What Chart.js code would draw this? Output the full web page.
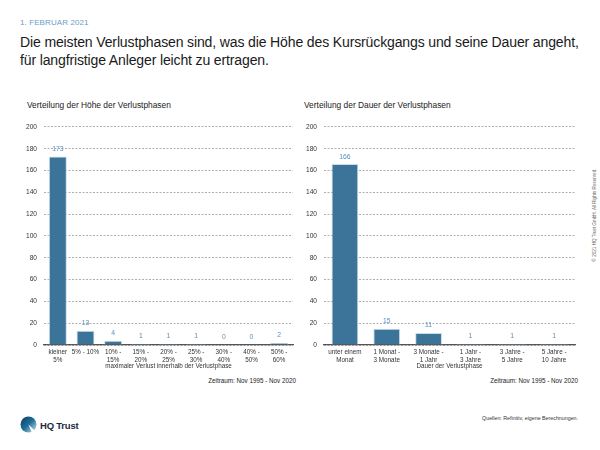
<!DOCTYPE html>
<html>
<head>
<meta charset="utf-8">
<script src="https://cdn.jsdelivr.net/npm/chart.js@4/dist/chart.umd.min.js"></script>
<style>
  html, body { margin: 0; padding: 0; background: #fff; }
  body { width: 600px; height: 450px; position: relative; overflow: hidden; font-family: "Liberation Sans", Arial, sans-serif; }
  .abs { position: absolute; }
  #date { left: 20px; top: 18px; font-size: 8px; color: #6b9cc6; letter-spacing: 0.1px; }
  #title { left: 20px; top: 33px; font-size: 14.05px; line-height: 18px; color: #1a1a1a; white-space: nowrap; letter-spacing: -0.15px; }
  .sub { top: 100px; font-size: 8.4px; color: #222; }
  .zeit { top: 377px; font-size: 6.3px; color: #222; }
  #src { left: 430px; top: 415px; width: 148px; text-align: right; font-size: 5.3px; color: #333; }
  #copy { left: 594px; top: 215px; font-size: 4.6px; color: #666; transform: translate(-50%, -50%) rotate(-90deg); white-space: nowrap; transform-origin: center; }
  #logo { left: 20px; top: 416px; }
  #hq { left: 40px; top: 420px; font-size: 9.5px; font-weight: bold; color: #1d2a3a; letter-spacing: -0.2px; }
</style>
</head>
<body>
<div id="date" class="abs">1. FEBRUAR 2021</div>
<div id="title" class="abs">Die meisten Verlustphasen sind, was die Höhe des Kursrückgangs und seine Dauer angeht,<br>für langfristige Anleger leicht zu ertragen.</div>
<div class="abs sub" style="left:27px;">Verteilung der Höhe der Verlustphasen</div>
<div class="abs sub" style="left:304px;">Verteilung der Dauer der Verlustphasen</div>

<canvas id="c1" class="abs" style="left:20px; top:116px;" width="278" height="258"></canvas>
<canvas id="c2" class="abs" style="left:300px; top:116px;" width="280" height="258"></canvas>

<div class="abs zeit" style="left:200px; width:96px; text-align:right;">Zeitraum: Nov 1995 - Nov 2020</div>
<div class="abs zeit" style="left:480px; width:98px; text-align:right;">Zeitraum: Nov 1995 - Nov 2020</div>

<svg id="logo" class="abs" width="18" height="18" viewBox="0 0 18 18">
  <defs>
    <linearGradient id="lg" x1="0" y1="0" x2="1" y2="1">
      <stop offset="0" stop-color="#0a3a5c"/>
      <stop offset="0.5" stop-color="#1f6f9a"/>
      <stop offset="1" stop-color="#d8e8f2"/>
    </linearGradient>
  </defs>
  <circle cx="8.5" cy="8.5" r="8" fill="url(#lg)"/>
  <path d="M8.5 8.5 L17 17 L12 17 Z" fill="#fff"/>
</svg>
<div id="hq" class="abs">HQ Trust</div>
<div id="src" class="abs">Quellen: Refinitiv, eigene Berechnungen.</div>
<div id="copy" class="abs">© 2021 HQ Trust GmbH. All Rights Reserved.</div>

<script>
// ---- Data ----
const lossCategories = [["kleiner","5%"],["5% - 10%"],["10% -","15%"],["15% -","20%"],["20% -","25%"],["25% -","30%"],["30% -","40%"],["40% -","50%"],["50% -","60%"]];
const lossCounts = [173, 13, 4, 1, 1, 1, 0, 0, 2];
const durationCategories = [["unter einem","Monat"],["1 Monat -","3 Monate"],["3 Monate -","1 Jahr"],["1 Jahr -","3 Jahre"],["3 Jahre -","5 Jahre"],["5 Jahre -","10 Jahre"]];
const durationCounts = [166, 15, 11, 1, 1, 1];
const yTicks = [0, 20, 40, 60, 80, 100, 120, 140, 160, 180, 200];
const lossAxisTitle = "maximaler Verlust innerhalb der Verlustphase";
const durationAxisTitle = "Dauer der Verlustphase";

const FONT = "'Liberation Sans', Arial, sans-serif";
const BAR = "#3b7399";
const LABEL = "#5a8fbf";

const valueLabels = {
  id: 'valueLabels',
  afterDatasetsDraw(chart) {
    const ctx = chart.ctx;
    const meta = chart.getDatasetMeta(0);
    const data = chart.data.datasets[0].data;
    ctx.save();
    ctx.fillStyle = LABEL;
    ctx.font = "6.8px " + FONT;
    ctx.textAlign = 'center';
    ctx.textBaseline = 'bottom';
    meta.data.forEach((el, i) => {
      ctx.fillText(String(data[i]), el.x, el.y - 4);
    });
    ctx.restore();
  }
};

function makeChart(id, labels, values, axisTitle, barPct, yWidth, padRight) {
  return new Chart(document.getElementById(id), {
    type: 'bar',
    data: {
      labels: labels,
      datasets: [{
        data: values,
        backgroundColor: BAR,
        borderColor: '#c9dcea',
        borderWidth: 1,
        barPercentage: barPct,
        categoryPercentage: 1.0
      }]
    },
    options: {
      responsive: false,
      animation: false,
      devicePixelRatio: 1,
      layout: { padding: { top: 10, right: padRight, bottom: 0, left: 0 } },
      plugins: { legend: { display: false }, tooltip: { enabled: false } },
      scales: {
        y: {
          min: 0, max: 200,
          afterBuildTicks(scale) { scale.ticks = yTicks.map(v => ({ value: v })); },
          afterFit(scale) { scale.width = yWidth; },
          grid: { color: '#9a9a9a', lineWidth: 0.8, drawTicks: false },
          border: { display: false, dash: [2, 1.5] },
          ticks: { font: { size: 6.6, family: FONT }, color: '#333', padding: 7 }
        },
        x: {
          afterFit(scale) { scale.height = 29; },
          grid: { display: false, drawTicks: false },
          border: { display: true, color: '#555', width: 1.2 },
          ticks: { font: { size: 6.3, family: FONT, lineHeight: 1.15 }, color: '#333', padding: 4, maxRotation: 0, autoSkip: false },
          title: { display: true, text: axisTitle, font: { size: 6.3, family: FONT }, color: '#333', padding: { top: 0, bottom: 4 } }
        }
      }
    },
    plugins: [valueLabels]
  });
}

Chart.defaults.font.family = FONT;
makeChart('c1', lossCategories, lossCounts, lossAxisTitle, 0.65, 24, 5);
makeChart('c2', durationCategories, durationCounts, durationAxisTitle, 0.64, 24, 5);
</script>
</body>
</html>
